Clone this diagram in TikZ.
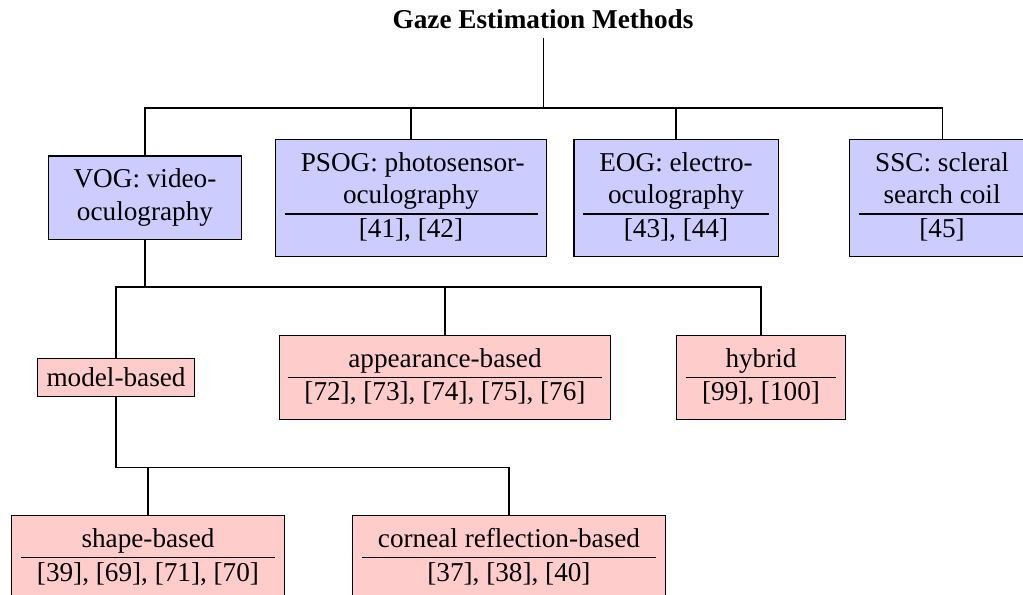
\documentclass[tikz,border=0pt]{standalone}
\usepackage{fontspec}
\setmainfont{Liberation Serif}
\usepackage{array}
\newcolumntype{C}[1]{>{\centering\arraybackslash}p{#1}}
\usetikzlibrary{calc}

\begin{document}
\begin{tikzpicture}[
    blubox/.style={draw, fill=blue!20, inner sep=0.3333em},
    redbox/.style={draw, fill=red!20, inner sep=0.3333em},
  ]
                    \useasboundingbox (0,0) rectangle (13.217,-7.687);

                    \coordinate (bus1) at (0,-1.395);
                    \coordinate (bus2) at (0,-3.708);
                    \coordinate (bus3) at (0,-6.034);

                    \node[font=\bfseries, anchor=base] (gem) at (7.016,-0.362) {Gaze Estimation Methods};

                    \node[blubox] (vog) at (1.873,-2.554)
                        {\begin{tabular}{c}VOG: video-\\oculography\end{tabular}};
                    \node[blubox] (psog) at (5.310,-2.554)
                        {\begin{tabular}{C{81pt}}\mbox{PSOG: photosensor-}\\oculography\\ \hline [41], [42]\end{tabular}};
                    \node[blubox] (eog) at (8.734,-2.554)
                        {\begin{tabular}{c}EOG: electro-\\oculography\\ \hline [43], [44]\end{tabular}};
                    \node[blubox] (ssc) at (12.171,-2.554)
                        {\begin{tabular}{c}SSC: scleral\\search coil\\ \hline [45]\end{tabular}};

                    \node[redbox] (model) at (1.499,-4.877) {model-based};
                    \node[redbox] (appear) at (5.749,-4.877)
                        {\begin{tabular}{c}appearance-based\\ \hline [72], [73], [74], [75], [76]\end{tabular}};
                    \node[redbox] (hybrid) at (9.832,-4.877)
                        {\begin{tabular}{c}hybrid\\ \hline [99], [100]\end{tabular}};

                    \node[redbox, anchor=north] (shape) at (1.912,-6.654)
                        {\begin{tabular}{c}shape-based\\ \hline [39], [69], [71], [70]\end{tabular}};
                    \node[redbox, anchor=north] (corneal) at (6.576,-6.654)
                        {\begin{tabular}{c}corneal reflection-based\\ \hline [37], [38], [40]\end{tabular}};

                    \foreach \kid in {vog,psog,eog,ssc}
                        \draw (gem.south) -- (gem.south |- bus1) -| (\kid.north);
                    \foreach \kid in {model,appear,hybrid}
                        \draw (vog.south) -- (vog.south |- bus2) -| (\kid.north);
                    \foreach \kid in {shape,corneal}
                        \draw (model.south) -- (model.south |- bus3) -| (\kid.north);
\end{tikzpicture}
\end{document}
